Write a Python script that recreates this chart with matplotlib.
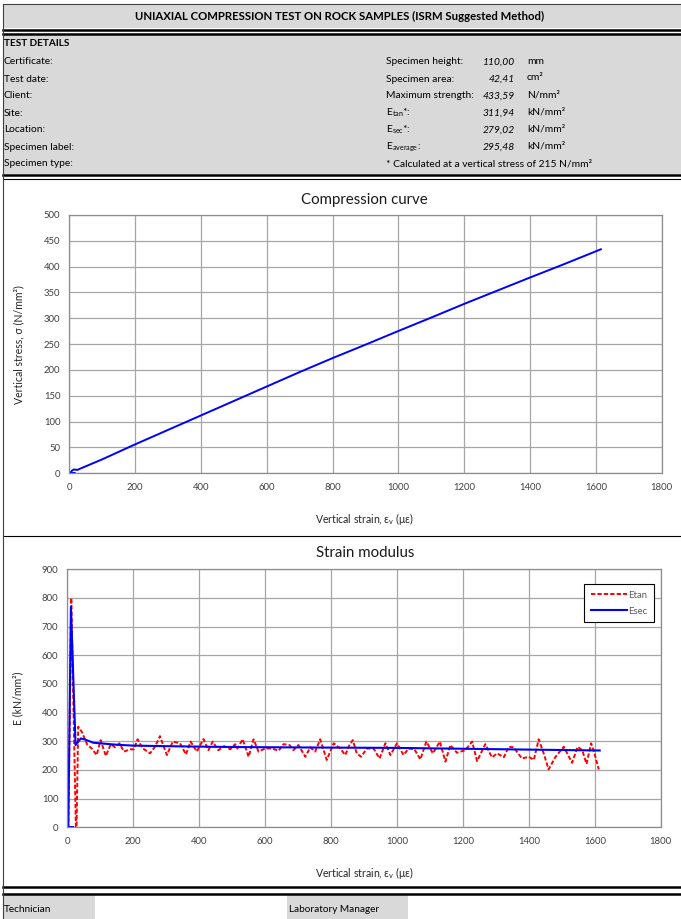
import matplotlib
matplotlib.use("Agg")
import matplotlib.pyplot as plt
from matplotlib.patches import Rectangle

plt.rcParams['font.family'] = ['Lato', 'DejaVu Sans']
plt.rcParams['mathtext.fontset'] = 'custom'
plt.rcParams['mathtext.rm'] = 'Lato'
plt.rcParams['mathtext.it'] = 'Lato:italic'

# ---------------- data ----------------
title = "UNIAXIAL COMPRESSION TEST ON ROCK SAMPLES (ISRM Suggested Method)"
left_labels = ["Certificate:", "Test date:", "Client:", "Site:", "Location:",
               "Specimen label:", "Specimen type:"]
right_labels = ["Specimen height:", "Specimen area:", "Maximum strength:",
                r"E$_{\mathrm{tan}}$*:", r"E$_{\mathrm{sec}}$*:", r"E$_{\mathrm{average}}$:"]
right_values = ["110,00", "42,41", "433,59", "311,94", "279,02", "295,48"]
right_units = ["mm", "cm²", "N/mm²", "kN/mm²", "kN/mm²", "kN/mm²"]
note = "* Calculated at a vertical stress of 215 N/mm²"

comp_strain = [0, 17, 2, 8, 14, 24, 35, 100, 200, 300, 400, 500, 600, 700, 800,
               900, 1000, 1100, 1200, 1300, 1400, 1500, 1615]
comp_stress = [0, 0, 0, 5, 7.5, 6.5, 9.5, 27, 56, 84, 112, 140, 168, 196, 223,
               249, 275.5, 301.5, 328, 353.5, 379, 404, 433.6]

etan_strain = [0, 3, 12, 26, 28, 33, 44, 61, 74, 89, 101, 117, 132, 145, 158, 172,
               190, 202, 213, 229, 251, 266, 281, 302, 320, 342, 360, 374, 393, 413,
               428, 441, 458, 476, 494, 509, 516, 532, 550, 565, 580, 600, 620, 641,
               656, 674, 686, 701, 722, 737, 752, 767, 787, 808, 828, 843, 856, 866,
               878, 891, 909, 929, 947, 965, 980, 1000, 1020, 1035, 1053, 1071, 1089,
               1109, 1130, 1147, 1162, 1182, 1207, 1228, 1243, 1268, 1288, 1304, 1324,
               1339, 1354, 1379, 1400, 1415, 1430, 1445, 1460, 1481, 1506, 1531, 1548,
               1562, 1575, 1589, 1599, 1612]
etan_value = [0, 0, 800, 0, 0, 351, 333, 287, 275, 252, 304, 249, 290, 279, 293, 264,
              272, 272, 307, 275, 258, 281, 318, 252, 299, 293, 254, 299, 264, 308,
              269, 299, 269, 283, 272, 290, 275, 307, 246, 307, 264, 275, 275, 267,
              290, 287, 269, 287, 246, 279, 264, 307, 235, 293, 275, 252, 287, 304,
              258, 246, 275, 275, 240, 293, 252, 293, 252, 275, 272, 237, 299,
              258, 299, 229, 287, 260, 269, 299, 231, 290, 244, 258, 244,
              281, 279, 240, 246, 235, 307, 258, 202, 246, 281, 225, 281,
              269, 221, 293, 258, 202]

esec_strain = [0, 18, 3, 11, 25, 41, 54, 79, 99, 150, 200, 300, 500, 800, 1000,
               1200, 1400, 1615]
esec_value = [0, 0, 0, 769, 287, 310, 306, 295, 293, 288, 285, 283, 280, 278, 277,
              274, 271, 268]

x_ticks = [0, 200, 400, 600, 800, 1000, 1200, 1400, 1600, 1800]
y1_ticks = [0, 50, 100, 150, 200, 250, 300, 350, 400, 450, 500]
y2_ticks = [0, 100, 200, 300, 400, 500, 600, 700, 800, 900]

# ---------------- layout ----------------
W, H = 681, 919
fig = plt.figure(figsize=(W / 100, H / 100), dpi=100)
bg = fig.add_axes([0, 0, 1, 1])
bg.set_xlim(0, W)
bg.set_ylim(H, 0)
bg.axis('off')

GRAY = '#d9d9d9'
FS = 7.4
# title bar
bg.add_patch(Rectangle((3, 4), W - 3, 24, facecolor=GRAY, edgecolor='none'))
bg.plot([3, W], [4, 4], color='#404040', lw=0.8)
bg.text(340, 16.5, title, ha='center', va='center', fontsize=8.2, fontweight='bold')
bg.plot([3, W], [29.5, 29.5], color='black', lw=1.8)
bg.plot([3, W], [33.5, 33.5], color='black', lw=1.8)
# details area
bg.add_patch(Rectangle((3, 34.5), W - 3, 139, facecolor=GRAY, edgecolor='none'))
bg.text(4, 43, "TEST DETAILS", ha='left', va='center', fontsize=7.2, fontweight='bold')
row_y = [62, 79, 96, 113, 130, 147, 164]
for yy, lab in zip(row_y, left_labels):
    bg.text(4, yy, lab, ha='left', va='center', fontsize=FS)
for yy, lab, val, unit in zip(row_y, right_labels, right_values, right_units):
    bg.text(386, yy, lab, ha='left', va='center', fontsize=FS)
    bg.text(515, yy, val, ha='right', va='center', fontsize=FS, style='italic')
    bg.text(527, yy - (1 if '²' in unit else 0), unit, ha='left', va='center', fontsize=FS)
bg.text(386, row_y[-1], note, ha='left', va='center', fontsize=FS)
bg.plot([3, W], [174.5, 174.5], color='black', lw=1.8)
bg.plot([3, W], [179, 179], color='black', lw=0.8)
bg.plot([3, W], [536, 536], color='black', lw=0.8)
bg.plot([3, W], [886.5, 886.5], color='black', lw=1.8)
bg.plot([3, W], [893.5, 893.5], color='black', lw=1.8)
bg.plot([3.3, 3.3], [4, H], color='#404040', lw=0.8)
# footer
bg.add_patch(Rectangle((4, 895), 91, 24, facecolor=GRAY, edgecolor='none'))
bg.add_patch(Rectangle((287, 895), 121, 24, facecolor=GRAY, edgecolor='none'))
bg.text(4, 910, "Technician", ha='left', va='center', fontsize=7.2)
bg.text(289, 910, "Laboratory Manager", ha='left', va='center', fontsize=7.2)


def make_axes(x0, x1, ytop, ybot):
    return fig.add_axes([x0 / W, 1 - ybot / H, (x1 - x0) / W, (ybot - ytop) / H])


TICKC = '#404040'
GRIDC = '#a6a6a6'


def style(ax, yticks):
    ax.set_xlim(0, 1800)
    ax.set_xticks(x_ticks)
    ax.set_ylim(yticks[0], yticks[-1])
    ax.set_yticks(yticks)
    ax.grid(True, color=GRIDC, lw=0.9)
    ax.set_axisbelow(True)
    for s in ax.spines.values():
        s.set_color('#8c8c8c')
        s.set_linewidth(0.9)
    ax.tick_params(length=0, labelsize=6.8, colors=TICKC)
    ax.tick_params(axis='x', pad=7)
    ax.tick_params(axis='y', pad=6.5)


AXFS = 7.6
# chart 1
ax1 = make_axes(69.3, 661.7, 215, 473.3)
style(ax1, y1_ticks)
ax1.plot(comp_strain, comp_stress, color='#0000ff', lw=1.4)
bg.text(364, 200, "Compression curve", ha='center', va='center', fontsize=10.8, color='#1a1a1a')
bg.text(364, 519, r"Vertical strain, ε$_{\mathrm{v}}$ (με)", ha='center', va='center',
        fontsize=AXFS, color='#262626')
bg.text(19, 345, "Vertical stress, σ (N/mm²)", ha='center', va='center', rotation=90,
        fontsize=AXFS, color='#262626')

# chart 2
ax2 = make_axes(67.3, 660.7, 569.3, 827.3)
style(ax2, y2_ticks)
ax2.plot(etan_strain, etan_value, color='#ff0000', lw=1.4, dashes=(2.2, 1.1), label='Etan')
ax2.plot(esec_strain, esec_value, color='#0000ff', lw=1.5, label='Esec')
leg = ax2.legend(loc='upper right', bbox_to_anchor=(0.989, 0.943), fontsize=6.8,
                 frameon=True, fancybox=False, edgecolor='black', framealpha=1,
                 handlelength=3.8, handletextpad=0.2, borderpad=0.7, labelspacing=0.75,
                 borderaxespad=0)
leg.get_frame().set_linewidth(0.8)
for t in leg.get_texts():
    t.set_color('#595959')
bg.text(365, 553, "Strain modulus", ha='center', va='center', fontsize=10.8, color='#1a1a1a')
bg.text(364, 873, r"Vertical strain, ε$_{\mathrm{v}}$ (με)", ha='center', va='center',
        fontsize=AXFS, color='#262626')
bg.text(18, 698, "E (kN/mm²)", ha='center', va='center', rotation=90,
        fontsize=AXFS, color='#262626')

fig.savefig("out.png", dpi=100)
